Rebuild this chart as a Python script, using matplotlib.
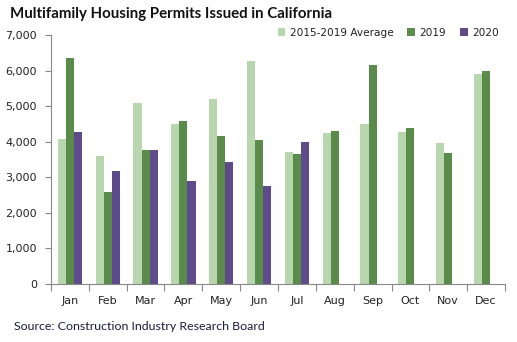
import matplotlib
matplotlib.use("Agg")
import matplotlib.pyplot as plt
import numpy as np
from matplotlib.ticker import FuncFormatter, FixedLocator

months = ["Jan", "Feb", "Mar", "Apr", "May", "Jun", "Jul", "Aug", "Sep", "Oct", "Nov", "Dec"]
avg_2015_2019 = [4070, 3590, 5080, 4490, 5190, 6260, 3710, 4240, 4490, 4270, 3960, 5900]
y2019 = [6340, 2580, 3760, 4580, 4155, 4040, 3650, 4300, 6150, 4380, 3680, 5980]
y2020 = [4270, 3170, 3760, 2890, 3425, 2750, 3990, np.nan, np.nan, np.nan, np.nan, np.nan]
series_names = ["2015-2019 Average", "2019", "2020"]
colors = ["#B8D7AF", "#5A8B4A", "#5F4A8B"]

fig = plt.figure(figsize=(5.17, 3.42), dpi=100)
ax = fig.add_axes([51/517, 1-284/342, (505-51)/517, (284-35)/342])

x = np.arange(len(months))
w = 0.215
for i, (vals, name, c) in enumerate(zip([avg_2015_2019, y2019, y2020], series_names, colors)):
    ax.bar(x + (i-1)*w, vals, width=w, color=c, label=name, linewidth=0)

ax.set_xlim(-0.5, 11.5)
ax.set_ylim(0, 7000)
ax.set_yticks(np.arange(0, 7001, 1000))
ax.yaxis.set_major_formatter(FuncFormatter(lambda v, p: f"{int(v):,}"))
ax.set_xticks(x)
ax.set_xticklabels(months)
ax.xaxis.set_minor_locator(FixedLocator(np.arange(-0.5, 12, 1)))
ax.tick_params(axis="x", which="major", length=0, pad=9, labelsize=8, labelcolor="#222222")
ax.tick_params(axis="x", which="minor", length=5, color="#888888", width=0.8)
ax.tick_params(axis="y", length=4, color="#888888", width=0.8, labelsize=8, labelcolor="#222222", pad=6)
for s in ["top", "right"]:
    ax.spines[s].set_visible(False)
for s in ["left", "bottom"]:
    ax.spines[s].set_color("#888888")
    ax.spines[s].set_linewidth(0.8)

leg = ax.legend(loc="upper right", bbox_to_anchor=(0.995, 1.045), ncol=3, frameon=False,
                prop={"size": 7.6}, handlelength=0.75, handleheight=0.75, handletextpad=0.4,
                columnspacing=1.3, borderaxespad=0)
for t in leg.get_texts():
    t.set_color("#222222")

fig.text(10/517, 1-14/342, "Multifamily Housing Permits Issued in California",
         fontsize=10.8, fontweight="bold", family=["Lato", "DejaVu Sans"],
         va="center", ha="left", color="#111111")
fig.text(14/517, 1-327/342, "Source: Construction Industry Research Board",
         fontsize=8.9, family=["Lato", "DejaVu Sans"], va="center", ha="left", color="#1a1a40")

fig.savefig("out.png", dpi=100)
